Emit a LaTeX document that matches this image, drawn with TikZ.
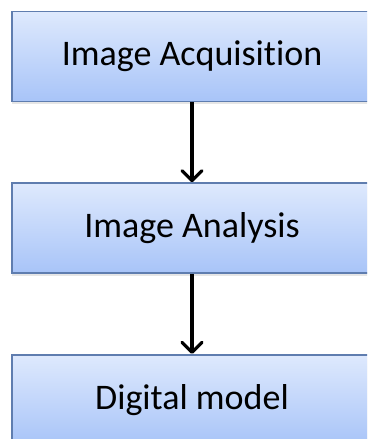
\documentclass[tikz,border=0pt]{standalone}
\usepackage{fontspec}
\setmainfont{Carlito}[Ligatures=NoCommon]
\usetikzlibrary{positioning,shadows,arrows.meta}
\definecolor{boxtop}{RGB}{222,233,253}
\definecolor{boxbottom}{RGB}{168,196,248}
\definecolor{boxline}{RGB}{95,125,175}

\begin{document}
\begin{tikzpicture}[x=1pt,y=-1pt,
    stage/.style={draw=boxline, line width=1.6pt, top color=boxtop, bottom color=boxbottom,
      minimum width=360pt, minimum height=90pt, inner sep=0pt, font=\fontsize{36}{40}\selectfont,
      drop shadow={shadow xshift=0pt, shadow yshift=-2.5pt, opacity=0.2}},
    flow/.style={line width=3.2pt, -{Straight Barb[length=10pt, width=20pt, line width=3.2pt, round]}}]
        % Cornice della figura
        \useasboundingbox (0,0) rectangle (367,439);
        \clip (0,0) rectangle (367,439);

        % Blocchi
        \node[stage] (acq) at (192,56.5) {Image Acquisition}; % Blocco 1
        \node[stage, below=80pt of acq] (ana) {Image Analysis}; % Blocco 2
        \node[stage, below=80pt of ana] (dig) {Digital model}; % Blocco 3

        % Frecce
        \draw[flow] (acq.south) -- (ana.north);
        \draw[flow] (ana.south) -- (dig.north);
    \end{tikzpicture}
\end{document}
